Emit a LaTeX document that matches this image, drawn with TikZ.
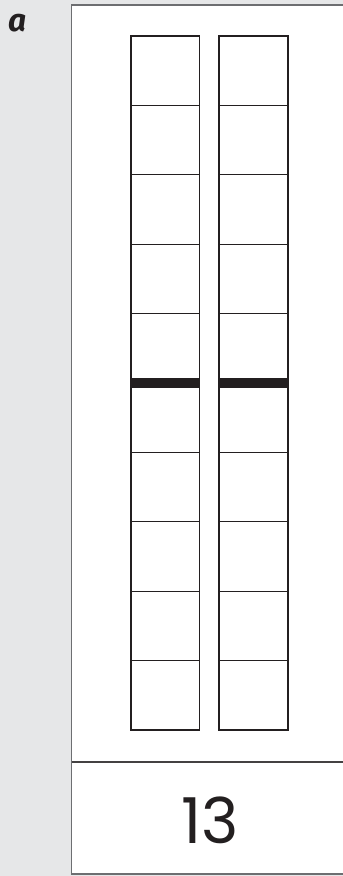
\documentclass[tikz,border=0pt]{standalone}
\usepackage{fontspec}
\setmainfont{Poppins}
\newfontfamily\labelfont{Fira Sans}
\usepackage{xcolor}
\definecolor{panelgrey}{HTML}{E6E7E8}
\definecolor{ink}{HTML}{231F20}
\definecolor{frame}{HTML}{6D6E71}

\begin{document}
\begin{tikzpicture}[x=0.03cm, y=-0.03cm]
  % Background and panel
  \fill[panelgrey] (0,0) rectangle (343,876);
  \useasboundingbox (0,0) rectangle (343,876);
  \fill[white] (71.5,5) rectangle (343,874);
  \draw[frame,line width=1.4pt] (343,5) -- (71.5,5) -- (71.5,874) -- (343,874);
  \draw[ink!85,line width=0.9pt] (71.5,762) -- (343,762);

  % Label
  \node[ink,font=\labelfont\fontsize{27}{27}\selectfont\bfseries\itshape] (lbl) at (18,23.5) {a};

  % Left bar
  \foreach \k in {1,...,9}
    \draw[ink,line width=0.7pt] (131,36+69.4*\k) -- (199.5,36+69.4*\k);
  \draw[ink,line width=1.7pt] (131,36) rectangle (199.5,730);

  % Right bar
  \foreach \k in {1,...,9}
    \draw[ink,line width=0.7pt] (219,36+69.4*\k) -- (288,36+69.4*\k);
  \draw[ink,line width=1.7pt] (219,36) rectangle (288,730);

  % Middle marks
  \fill[ink] (131,378) rectangle (199.5,388);
  \fill[ink] (219,378) rectangle (288,388);

  % Number
  \node[ink,font=\fontsize{54}{54}\selectfont] (num) at (210,820) {13};
\end{tikzpicture}
\end{document}
